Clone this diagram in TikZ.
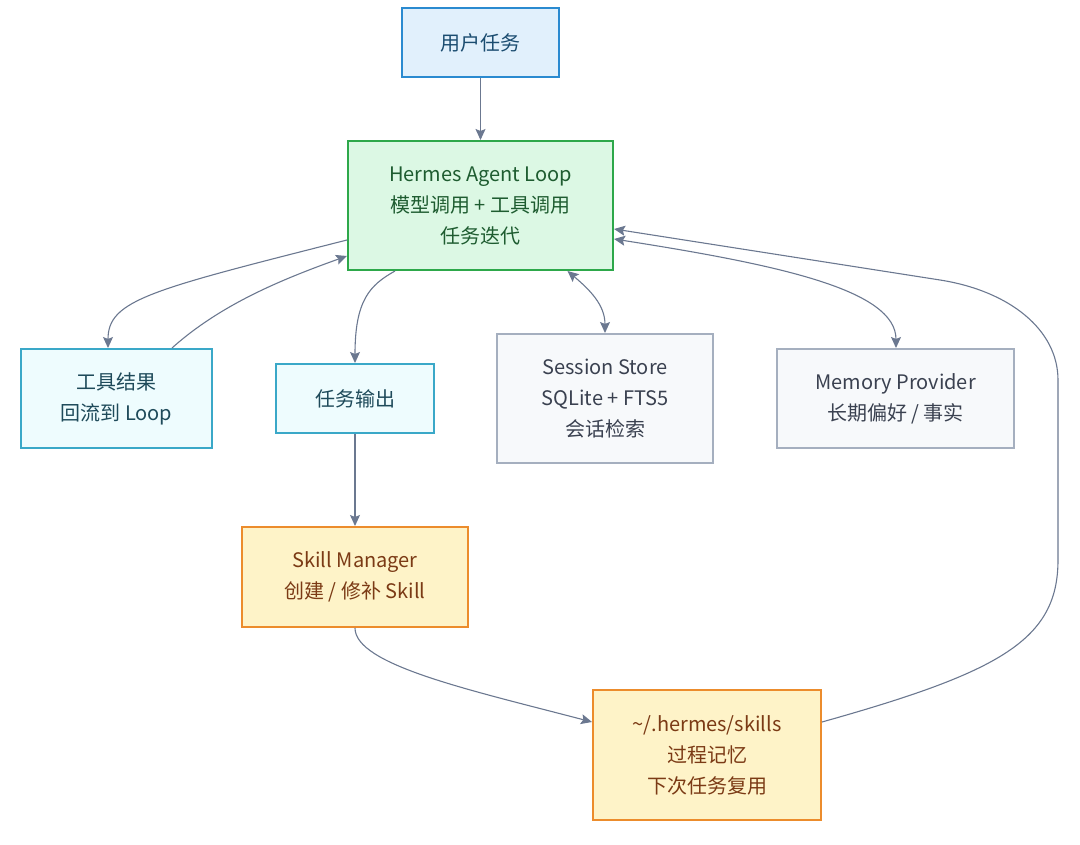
\documentclass[tikz,border=0pt]{standalone}
\usepackage{fontspec}
\setmainfont{Noto Sans CJK SC}
\usetikzlibrary{arrows.meta}
\definecolor{arr}{HTML}{6B7890}
\definecolor{bluefill}{HTML}{E1F0FC}\definecolor{bluedraw}{HTML}{2A8AD0}\definecolor{bluetext}{HTML}{1A4C70}
\definecolor{greenfill}{HTML}{DCF8E4}\definecolor{greendraw}{HTML}{2DA84A}\definecolor{greentext}{HTML}{1E5C30}
\definecolor{cyanfill}{HTML}{EEFCFE}\definecolor{cyandraw}{HTML}{3AA8C8}\definecolor{cyantext}{HTML}{1E4A5A}
\definecolor{grayfill}{HTML}{F7F9FB}\definecolor{graydraw}{HTML}{A5AFBF}\definecolor{graytext}{HTML}{3A4150}
\definecolor{orfill}{HTML}{FEF3C8}\definecolor{ordraw}{HTML}{EC8C2C}\definecolor{ortext}{HTML}{7B3A15}
\tikzset{
  box/.style={rectangle, line width=2pt, inner sep=0pt, align=center,
    font=\fontsize{20}{31}\selectfont},
  bluebox/.style={box, fill=bluefill, draw=bluedraw, text=bluetext},
  greenbox/.style={box, fill=greenfill, draw=greendraw, text=greentext},
  cyanbox/.style={box, fill=cyanfill, draw=cyandraw, text=cyantext},
  graybox/.style={box, fill=grayfill, draw=graydraw, text=graytext},
  orbox/.style={box, fill=orfill, draw=ordraw, text=ortext},
  conn/.style={draw=arr, line width=1.1pt, -{Stealth[length=11pt,width=10pt,inset=2pt]}},
  biconn/.style={draw=arr, line width=1.1pt, {Stealth[length=11pt,width=10pt,inset=2pt]}-{Stealth[length=11pt,width=10pt,inset=2pt]}},
}
\begin{document}
\begin{tikzpicture}[x=1pt,y=-1pt]
\useasboundingbox (0,0) rectangle (1080,845);
\node[bluebox, minimum width=157pt, minimum height=69pt] (task) at (480.5,42.5) {用户任务};
\node[greenbox, minimum width=265pt, minimum height=129pt] (main) at (480.5,205.5) {Hermes Agent Loop\\模型调用 + 工具调用\\任务迭代};
\node[cyanbox, minimum width=191pt, minimum height=99pt] (tool) at (116.5,398.5) {工具结果\\回流到 Loop};
\node[cyanbox, minimum width=158pt, minimum height=69pt] (out) at (355,398.5) {任务输出};
\node[graybox, minimum width=216pt, minimum height=129pt] (sess) at (605,398.5) {Session Store\\SQLite + FTS5\\会话检索};
\node[graybox, minimum width=237pt, minimum height=99pt] (mem) at (895.5,398.5) {Memory Provider\\长期偏好 / 事实};
\node[orbox, minimum width=226pt, minimum height=100pt] (mgr) at (355,577) {Skill Manager\\创建 / 修补 Skill};
\node[orbox, minimum width=228pt, minimum height=130pt] (skills) at (707,755) {\textasciitilde/.hermes/skills\\过程记忆\\下次任务复用};

\draw[conn] (task) -- (main);
\draw[conn] ([yshift=-34.5pt]main.west) .. controls (150,290) and (108,300) .. ([xshift=-8.5pt]tool.north);
\draw[conn] ([xshift=55.5pt]tool.north) .. controls (220,305) and (280,280) .. ([yshift=-50.5pt]main.west);
\draw[conn] ([xshift=-85.5pt]main.south) .. controls (370,285) and (355,300) .. (out.north);
\draw[biconn] ([xshift=87pt]main.south) .. controls (590,290) and (605,305) .. (sess.north);
\draw[biconn] ([yshift=-33.5pt]main.east) .. controls (780,265) and (896,290) .. ([xshift=0.5pt]mem.north);
\draw[conn] (out) -- (mgr);
\draw[conn] (mgr.south) .. controls (355,665) and (470,690) .. ([yshift=33pt]skills.west);
\draw[conn] ([yshift=33pt]skills.east) .. controls (1000,672) and (1058,640) .. (1058,560) -- (1058,380) .. controls (1058,330) and (1010,291) .. (940,280) -- ([yshift=-23.5pt]main.east);
\end{tikzpicture}
\end{document}
